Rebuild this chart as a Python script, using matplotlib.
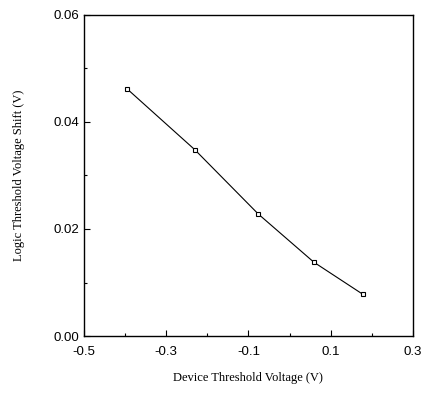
import matplotlib
matplotlib.use("Agg")
import matplotlib.pyplot as plt
from matplotlib.ticker import MultipleLocator

device_vt = [-0.395, -0.23, -0.076, 0.059, 0.178]
logic_shift = [0.0462, 0.0348, 0.0228, 0.0138, 0.0078]
x_ticks = [-0.5, -0.3, -0.1, 0.1, 0.3]
x_tick_labels = ["-0.5", "-0.3", "-0.1", "0.1", "0.3"]
y_ticks = [0.00, 0.02, 0.04, 0.06]
y_tick_labels = ["0.00", "0.02", "0.04", "0.06"]

fig = plt.figure(figsize=(4.21, 3.93), dpi=100)
ax = fig.add_axes([0.199, 0.145, 0.782, 0.817])
ax.plot(device_vt, logic_shift, color="black", lw=0.8, marker="s", ms=3.5,
        mfc="white", mec="black", mew=0.8)
ax.set_xlim(-0.5, 0.3)
ax.set_ylim(0.0, 0.06)
ax.set_xticks(x_ticks)
ax.set_xticklabels(x_tick_labels, family="Liberation Sans", fontsize=9.5)
ax.set_yticks(y_ticks)
ax.set_yticklabels(y_tick_labels, family="Liberation Sans", fontsize=9.5)
ax.xaxis.set_minor_locator(MultipleLocator(0.1))
ax.yaxis.set_minor_locator(MultipleLocator(0.01))
ax.tick_params(which="both", direction="in", top=False, right=False, width=0.8)
ax.tick_params(which="major", length=4)
ax.tick_params(axis="x", which="major", pad=7)
ax.tick_params(axis="y", which="major", pad=3)
ax.tick_params(which="minor", length=2.5)
for s in ax.spines.values():
    s.set_linewidth(1.0)
ax.set_xlabel("Device Threshold Voltage (V)", family="Liberation Serif", fontsize=9, labelpad=10)
ax.set_ylabel("Logic Threshold Voltage Shift (V)", family="Liberation Serif", fontsize=9, labelpad=21)
fig.savefig("out.png", dpi=100)
